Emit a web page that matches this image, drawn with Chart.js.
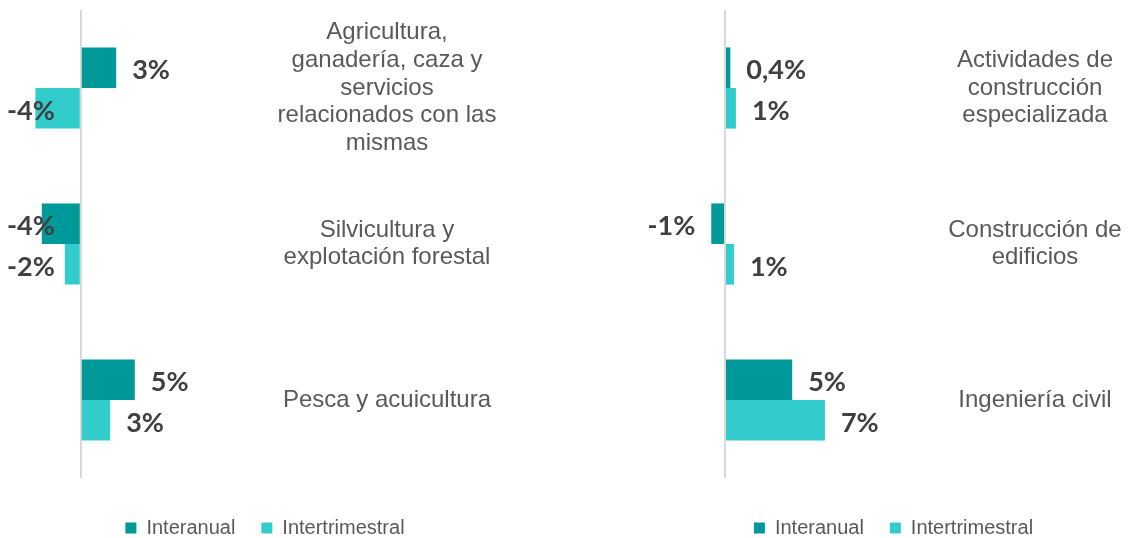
<!DOCTYPE html>
<html>
<head>
<meta charset="utf-8">
<title>Variación por actividad</title>
<script src="https://cdn.jsdelivr.net/npm/chart.js@4.4.1/dist/chart.umd.min.js"></script>
<style>
  html, body { margin: 0; padding: 0; background: #fff; overflow: hidden; }
  .panel { position: absolute; top: 0; }
</style>
</head>
<body>
<div class="panel" style="left:0"><canvas id="primario" width="522" height="548"></canvas></div>
<div class="panel" style="left:644px"><canvas id="construccion" width="488" height="548"></canvas></div>
<script>
const seriesNames = ['Interanual', 'Intertrimestral']

// sector primario
const primarioLabels = [
  ['Agricultura,', 'ganadería, caza y', 'servicios', 'relacionados con las', 'mismas'],
  ['Silvicultura y', 'explotación forestal'],
  ['Pesca y acuicultura']
]
const primarioInteranual = [3.4, -3.75, 5.19]
const primarioIntertrimestral = [-4.36, -1.54, 2.82]

// construcción
const construccionLabels = [
  ['Actividades de', 'construcción', 'especializada'],
  ['Construcción de', 'edificios'],
  ['Ingeniería civil']
]
const construccionInteranual = [0.38, -0.98, 4.8]
const construccionIntertrimestral = [0.78, 0.64, 7.14]

const DARK = '#009999'
const LIGHT = '#33CCCC'
const TEXT = '#595959'
const LABEL_FONT = '"Liberation Sans", Arial, sans-serif'
const VALUE_FONT = 'Lato, "Open Sans", sans-serif'

function formatPct(v) {
  if (Math.round(v) === 0) return v.toFixed(1).replace('.', ',') + '%'
  return Math.round(v) + '%'
}

function widestLine(labels) {
  const ctx = document.createElement('canvas').getContext('2d')
  ctx.font = '24px ' + LABEL_FONT
  let w = 0
  labels.forEach(l => [].concat(l).forEach(s => { w = Math.max(w, ctx.measureText(s).width) }))
  return w
}

// value text beside each bar, pulled back inside the canvas when it would overflow
const valueLabels = {
  id: 'valueLabels',
  afterDatasetsDraw(chart, args, opts) {
    const ctx = chart.ctx
    ctx.save()
    ctx.font = 'bold 27px ' + VALUE_FONT
    ctx.fillStyle = '#404040'
    ctx.textBaseline = 'middle'
    ctx.textAlign = 'left'
    chart.data.datasets.forEach((ds, di) => {
      chart.getDatasetMeta(di).data.forEach((bar, i) => {
        const v = ds.data[i]
        const text = formatPct(v)
        const w = ctx.measureText(text).width
        let x
        if (v >= 0) x = bar.x + opts.gap
        else x = Math.max(bar.x - opts.gap - w, opts.minX)
        ctx.fillText(text, x, bar.y + 3)
      })
    })
    ctx.restore()
  }
}

function makeChart(id, labels, interanual, intertrimestral, box) {
  const canvas = document.getElementById(id)
  const tickPadding = box.labelCenter - box.areaRight - widestLine(labels) / 2
  return new Chart(canvas, {
    type: 'bar',
    data: {
      labels: labels,
      datasets: [
        { label: seriesNames[0], data: interanual, backgroundColor: DARK, borderWidth: 0 },
        { label: seriesNames[1], data: intertrimestral, backgroundColor: LIGHT, borderWidth: 0 }
      ]
    },
    options: {
      indexAxis: 'y',
      responsive: false,
      animation: false,
      devicePixelRatio: 1,
      layout: { padding: { left: box.areaLeft, top: 10, right: 0, bottom: 0 } },
      datasets: { bar: { categoryPercentage: 0.52, barPercentage: 1 } },
      scales: {
        x: {
          min: box.min,
          max: box.max,
          ticks: { display: false, stepSize: 1 },
          grid: {
            drawTicks: false,
            lineWidth: 2,
            color: c => (c.tick && c.tick.value === 0 ? '#D9D9D9' : 'rgba(0,0,0,0)')
          },
          border: { display: false },
          afterFit: s => {
            s.height = 14
            s.paddingLeft = 0
            s.paddingRight = 0
          }
        },
        y: {
          position: 'right',
          grid: { display: false, drawTicks: false },
          border: { display: false },
          ticks: {
            crossAlign: 'center',
            padding: tickPadding,
            color: TEXT,
            font: { family: LABEL_FONT, size: 24, lineHeight: 1.15 }
          },
          afterFit: s => {
            // the category labels sit inside the bands, no extra room above or below
            s.width = canvas.width - box.areaRight
            s.paddingTop = 0
            s.paddingBottom = 0
          }
        }
      },
      plugins: {
        legend: {
          position: 'bottom',
          labels: {
            boxWidth: 11,
            boxHeight: 11,
            padding: 26,
            color: TEXT,
            font: { family: LABEL_FONT, size: 20 }
          }
        },
        tooltip: { enabled: false },
        valueLabels: { gap: 16, minX: box.clampX }
      }
    },
    plugins: [valueLabels]
  })
}

makeChart('primario', primarioLabels, primarioInteranual, primarioIntertrimestral,
  { min: -7, max: 15, areaLeft: 8, areaRight: 236.8, labelCenter: 387, clampX: 7 })

makeChart('construccion', construccionLabels, construccionInteranual, construccionIntertrimestral,
  { min: -5, max: 12, areaLeft: 11, areaRight: 249, labelCenter: 391, clampX: 2 })
</script>
</body>
</html>
